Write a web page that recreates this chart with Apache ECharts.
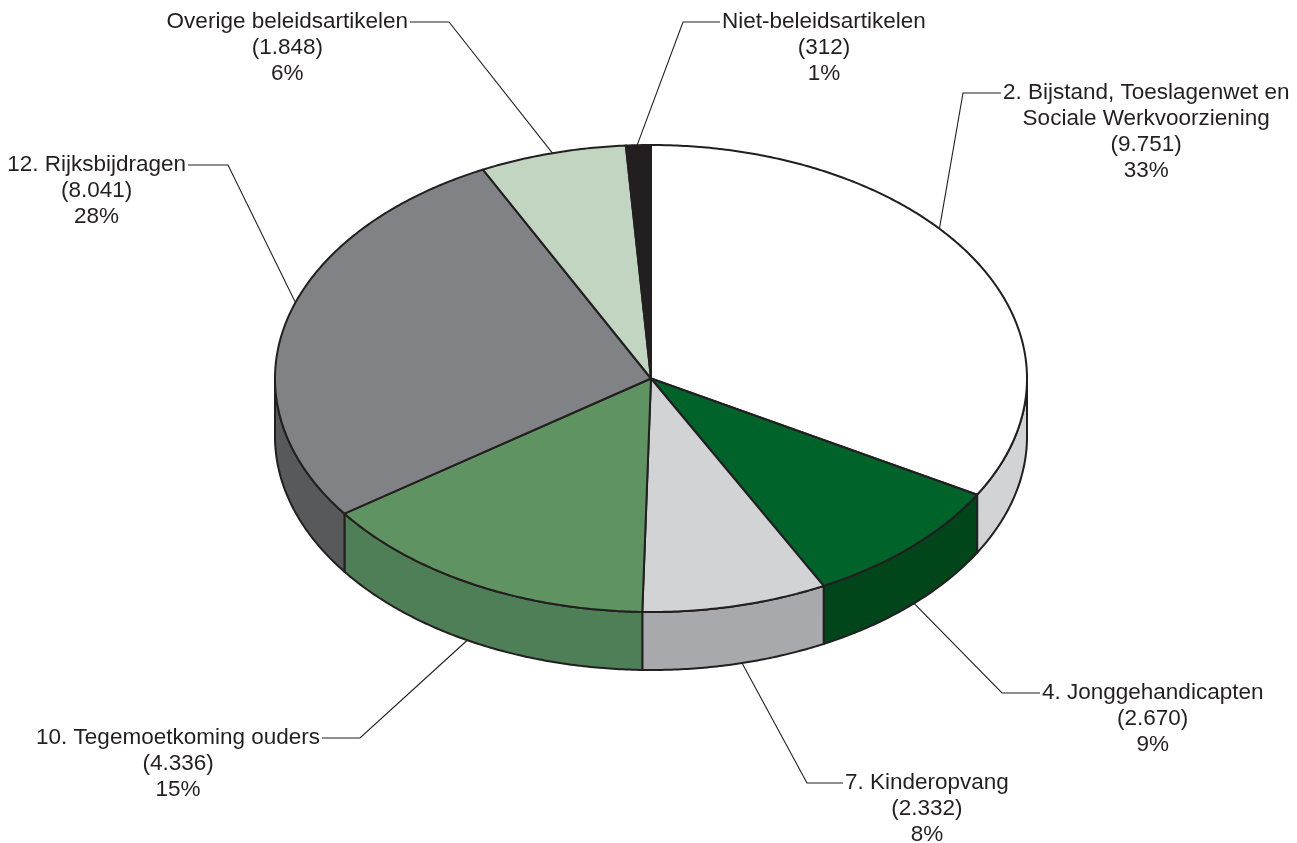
<!DOCTYPE html>
<html>
<head>
<meta charset="utf-8">
<script src="https://cdn.jsdelivr.net/npm/echarts@6/dist/echarts.min.js"></script>
<style>
html,body{margin:0;padding:0;background:#ffffff;}
#chart{width:1297px;height:843px;}
</style>
</head>
<body>
<div id="chart"></div>
<script>
// ---- data ----
const categories = [
  '2. Bijstand, Toeslagenwet en\nSociale Werkvoorziening',
  '4. Jonggehandicapten',
  '7. Kinderopvang',
  '10. Tegemoetkoming ouders',
  '12. Rijksbijdragen',
  'Overige beleidsartikelen',
  'Niet-beleidsartikelen'
];
const values = [9751, 2670, 2332, 4336, 8041, 1848, 312];
const percentLabels = ['33%', '9%', '8%', '15%', '28%', '6%', '1%'];

// ---- styles ----
const topColors  = ['#ffffff', '#006329', '#d1d3d4', '#5f9462', '#808285', '#c1d5c0', '#231f20'];
const sideColors = ['#d1d3d4', '#00461a', '#a7a9ac', '#4f7f56', '#58595b', '#9fb59e', '#111111'];
const ink = '#231f20';

// ---- layout ----
const pie = { cx: 651, cy: 378.5, rx: 376, ry: 233.5, depth: 58 };
const leaderLayout = [
  { frac: 0.418, elbow: [963, 93],  end: 1001 },
  { frac: 0.48,  elbow: [1002, 693], end: 1040 },
  { frac: 0.465, elbow: [807, 783], end: 843 },
  { frac: 0.524, elbow: [360, 738], end: 322 },
  { frac: 0.55,  elbow: [228, 165], end: 188 },
  { frac: 0.5,   elbow: [449, 22],  end: 410 },
  { frac: 0.45,  elbow: [683, 22],  end: 720 }
];
const fontSize = 22.5;
const fontFamily = '"Liberation Sans", Arial, Helvetica, sans-serif';
const lineHeight = 26;

// ---- derived ----
const total = values.reduce((a, b) => a + b, 0);
const startAngles = [], endAngles = [];
(function () {
  let acc = 0;
  values.forEach(v => {
    startAngles.push(acc / total * Math.PI * 2);
    acc += v;
    endAngles.push(acc / total * Math.PI * 2);
  });
})();

function fmtNL(v) {
  return String(v).replace(/\B(?=(\d{3})+(?!\d))/g, '.');
}

const measureCtx = document.createElement('canvas').getContext('2d');
measureCtx.font = fontSize + 'px ' + fontFamily;
function textWidth(s) { return measureCtx.measureText(s).width; }

function pt(theta, dy) {
  return [pie.cx + pie.rx * Math.sin(theta), pie.cy - pie.ry * Math.cos(theta) + (dy || 0)];
}
function arc(a, b, dy) {
  const pts = [];
  const n = Math.max(2, Math.ceil(Math.abs(b - a) / (Math.PI / 360)));
  for (let k = 0; k <= n; k++) pts.push(pt(a + (b - a) * k / n, dy));
  return pts;
}

function renderItem(params, api) {
  const i = params.dataIndex;
  const a0 = startAngles[i], a1 = endAngles[i];
  const children = [];

  // side wall (visible front half: PI/2 .. 3PI/2)
  const s = Math.max(a0, Math.PI / 2), e = Math.min(a1, Math.PI * 1.5);
  if (s < e) {
    const pts = arc(s, e, 0).concat(arc(e, s, pie.depth));
    children.push({
      type: 'polygon',
      shape: { points: pts },
      style: { fill: sideColors[i], stroke: ink, lineWidth: 2, lineJoin: 'round' },
      z2: 1
    });
  }

  // top face
  const topPts = [[pie.cx, pie.cy]].concat(arc(a0, a1, 0));
  children.push({
    type: 'polygon',
    shape: { points: topPts },
    style: { fill: topColors[i], stroke: ink, lineWidth: 2, lineJoin: 'round' },
    z2: 2
  });

  // leader line
  const L = leaderLayout[i];
  const th = a0 + (a1 - a0) * L.frac;
  const front = Math.cos(th) < 0;
  const p0 = pt(th, front ? pie.depth : 0);
  children.push({
    type: 'polyline',
    shape: { points: [p0, L.elbow, [L.end, L.elbow[1]]] },
    style: { fill: null, stroke: ink, lineWidth: 1.1 },
    z2: 3
  });

  // label
  const lines = categories[i].split('\n');
  const w = textWidth(lines[0]);
  const rightSide = L.end > L.elbow[0];
  const gap = 2;
  const centerX = rightSide ? L.end + gap + w / 2 : L.end - gap - w / 2;
  const txt = lines.concat(['(' + fmtNL(api.value(0)) + ')', percentLabels[i]]).join('\n');
  children.push({
    type: 'text',
    x: centerX,
    y: L.elbow[1] - lineHeight / 2,
    style: {
      text: txt,
      fill: ink,
      font: fontSize + 'px ' + fontFamily,
      fontSize: fontSize,
      fontFamily: fontFamily,
      align: 'center',
      verticalAlign: 'top',
      lineHeight: lineHeight
    },
    z2: 4
  });

  return { type: 'group', children: children };
}

const chart = echarts.init(document.getElementById('chart'), null, { renderer: 'canvas' });
chart.setOption({
  backgroundColor: '#ffffff',
  animation: false,
  series: [{
    type: 'custom',
    coordinateSystem: 'none',
    silent: true,
    renderItem: renderItem,
    data: values.map((v, i) => [v, i])
  }]
});
</script>
</body>
</html>
